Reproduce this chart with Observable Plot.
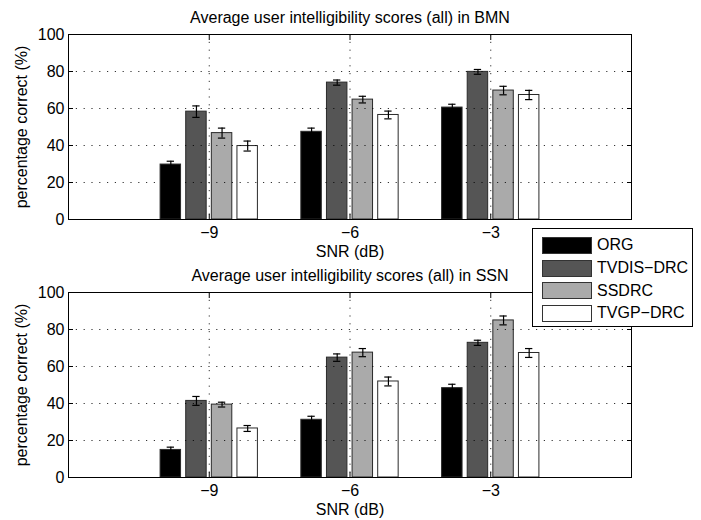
<!DOCTYPE html>
<html>
<head>
<meta charset="utf-8">
<script src="https://cdn.jsdelivr.net/npm/d3@7"></script>
<script src="https://cdn.jsdelivr.net/npm/@observablehq/plot@0.6"></script>
<style>
  html, body { margin: 0; padding: 0; background: #fff; }
  #wrap { position: relative; width: 701px; height: 520px; font-family: "Liberation Sans", Arial, Helvetica, sans-serif; }
  #wrap svg { display: block; }
  #legend { position: absolute; left: 532px; top: 228px; width: 161px; height: 99px; box-sizing: border-box;
            border: 1px solid #000; background: #fff; padding: 5px 0 0 9px; }
  .row { height: 22.7px; display: flex; align-items: center; font-size: 16px; color: #000; }
  .sw { width: 50px; height: 17px; box-sizing: border-box; border: 1px solid #333; margin-right: 5px; }
</style>
</head>
<body>
<div id="wrap"></div>
<script>
// ---- data ----
const snrLabels = ["−9", "−6", "−3"];
const seriesNames = ["ORG", "TVDIS−DRC", "SSDRC", "TVGP−DRC"];
const seriesColors = ["#000000", "#555555", "#aaaaaa", "#ffffff"];

const bmnORG   = [29.7, 47.4, 60.5];
const bmnTVDIS = [58.3, 74.0, 79.8];
const bmnSSDRC = [46.7, 64.8, 69.7];
const bmnTVGP  = [39.7, 56.5, 67.3];
const bmnErrORG   = [1.8, 2.0, 1.8];
const bmnErrTVDIS = [3.1, 1.4, 1.3];
const bmnErrSSDRC = [2.7, 1.8, 2.3];
const bmnErrTVGP  = [2.7, 2.1, 2.5];

const ssnORG   = [14.9, 31.2, 48.3];
const ssnTVDIS = [41.4, 64.8, 72.8];
const ssnSSDRC = [39.4, 67.5, 84.9];
const ssnTVGP  = [26.5, 51.9, 67.3];
const ssnErrORG   = [1.5, 1.9, 2.1];
const ssnErrTVDIS = [2.4, 2.0, 1.4];
const ssnErrSSDRC = [1.3, 2.2, 2.4];
const ssnErrTVGP  = [1.6, 2.4, 2.4];

const yTicks = [0, 20, 40, 60, 80, 100];
const yGrid = [20, 40, 60, 80];
const xTicks = [1, 2, 3];

const titleBMN = "Average user intelligibility scores (all) in BMN";
const titleSSN = "Average user intelligibility scores (all) in SSN";
const xLabel = "SNR (dB)";
const yLabel = "percentage correct (%)";

function rows(vals, errs) {
  const out = [];
  vals.forEach((arr, s) => arr.forEach((v, g) => out.push({g: g + 1, s, series: seriesNames[s], value: v, err: errs[s][g]})));
  return out;
}
const bmnRows = rows([bmnORG, bmnTVDIS, bmnSSDRC, bmnTVGP], [bmnErrORG, bmnErrTVDIS, bmnErrSSDRC, bmnErrTVGP]);
const ssnRows = rows([ssnORG, ssnTVDIS, ssnSSDRC, ssnTVGP], [ssnErrORG, ssnErrTVDIS, ssnErrSSDRC, ssnErrTVGP]);

const slot = 0.182, barHalf = 0.0727, capHalf = 0.026;
const cx = d => d.g + (d.s - 1.5) * slot;

function chart(data, title, mTop, mBottom) {
  return Plot.plot({
    width: 701, height: 260,
    marginLeft: 68, marginRight: 70, marginTop: mTop, marginBottom: mBottom,
    style: {fontFamily: "'Liberation Sans', Arial, Helvetica, sans-serif", fontSize: "16px", color: "#000", background: "#fff", overflow: "visible"},
    x: {type: "linear", domain: [0, 4]},
    y: {domain: [0, 100]},
    color: {domain: seriesNames, range: seriesColors},
    marks: [
      Plot.rectY(data, {x1: d => cx(d) - barHalf, x2: d => cx(d) + barHalf, y1: 0, y2: "value", fill: "series", stroke: "#2a2a2a", strokeWidth: 1}),
      Plot.gridY(yGrid, {stroke: "#000", strokeOpacity: 0.8, strokeDasharray: "1.2,6.6"}),
      Plot.gridX(xTicks, {stroke: "#000", strokeOpacity: 0.8, strokeDasharray: "1.2,6.6"}),
      Plot.ruleX(data, {x: cx, y1: d => d.value - d.err, y2: d => d.value + d.err, stroke: "#000", strokeWidth: 1.2}),
      Plot.ruleY(data, {y: d => d.value + d.err, x1: d => cx(d) - capHalf, x2: d => cx(d) + capHalf, stroke: "#000", strokeWidth: 1.2}),
      Plot.ruleY(data, {y: d => d.value - d.err, x1: d => cx(d) - capHalf, x2: d => cx(d) + capHalf, stroke: "#000", strokeWidth: 1.2}),
      Plot.axisY(yTicks, {anchor: "left", tickSize: 0, tickPadding: 4, label: null}),
      Plot.axisY(yTicks, {anchor: "left", tickSize: 5, dx: 5, tickFormat: () => "", label: null}),
      Plot.axisY(yTicks, {anchor: "right", tickSize: 5, dx: -5, tickFormat: () => "", label: null}),
      Plot.axisX(xTicks, {anchor: "bottom", tickSize: 0, tickPadding: 7, tickFormat: d => snrLabels[d - 1], label: null}),
      Plot.axisX(xTicks, {anchor: "bottom", tickSize: 5, dy: -5, tickFormat: () => "", label: null}),
      Plot.axisX(xTicks, {anchor: "top", tickSize: 5, dy: 5, tickFormat: () => "", label: null}),
      Plot.frame({stroke: "#000", strokeWidth: 1}),
      Plot.text([title], {frameAnchor: "top", dy: -17, fontSize: 16, lineAnchor: "middle"}),
      Plot.text([xLabel], {frameAnchor: "bottom", dy: 32, fontSize: 16, lineAnchor: "middle"}),
      Plot.text([yLabel], {frameAnchor: "left", dx: -47, rotate: -90, fontSize: 16, textAnchor: "middle", lineAnchor: "middle"})
    ]
  });
}

const wrap = document.getElementById("wrap");
wrap.appendChild(chart(bmnRows, titleBMN, 34, 41));
wrap.appendChild(chart(ssnRows, titleSSN, 32, 43));

const legend = document.createElement("div");
legend.id = "legend";
seriesNames.forEach((name, i) => {
  const row = document.createElement("div");
  row.className = "row";
  const sw = document.createElement("div");
  sw.className = "sw";
  sw.style.background = seriesColors[i];
  const lab = document.createElement("span");
  lab.textContent = name;
  row.appendChild(sw);
  row.appendChild(lab);
  legend.appendChild(row);
});
wrap.appendChild(legend);
</script>
</body>
</html>
